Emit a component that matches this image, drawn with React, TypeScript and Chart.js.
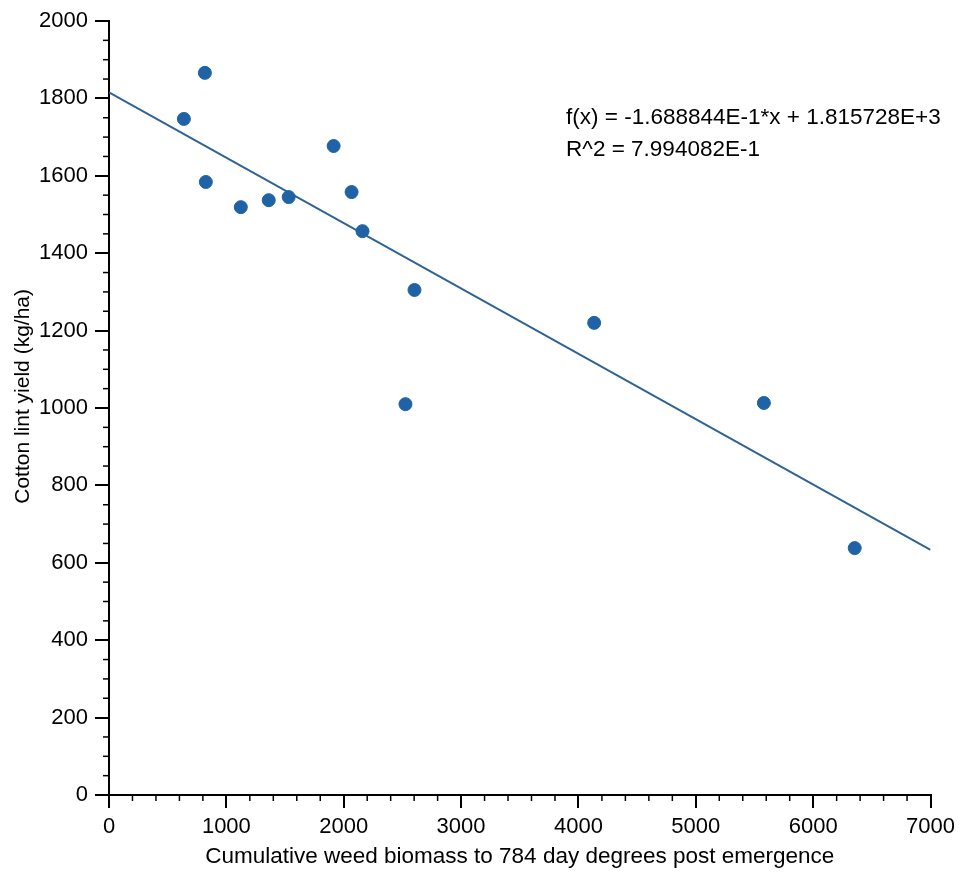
import { useEffect, useRef } from "react";
import { Chart, registerables } from "chart.js";

Chart.register(...registerables);

const biomass = [638, 817, 825, 1123, 1361, 1531, 1914, 2067, 2160, 2603, 2526, 4134, 5580, 6354];
const yieldKg = [1747, 1866, 1584, 1519, 1537, 1545, 1677, 1558, 1457, 1305, 1010, 1220, 1013, 638];
const slope = -0.1688844;
const intercept = 1815.728;
const fitRange = [0, 7000];
const annotationLines = ["f(x) = -1.688844E-1*x + 1.815728E+3", "R^2 = 7.994082E-1"];
const yTitle = "Cotton lint yield (kg/ha)";

const FONT = "'Liberation Sans', Arial, sans-serif";

const extras = {
  id: "extras",
  afterDraw(chart: any) {
    const ctx = chart.ctx;
    const xs = chart.scales.x;
    const ys = chart.scales.y;
    ctx.save();
    ctx.strokeStyle = "#000";
    ctx.lineWidth = 1.5;
    for (let v = 0; v <= 7000; v += 200) {
      if (v % 1000 === 0) continue;
      const px = xs.getPixelForValue(v);
      ctx.beginPath();
      ctx.moveTo(px, ys.bottom);
      ctx.lineTo(px, ys.bottom + 6);
      ctx.stroke();
    }
    for (let v = 0; v <= 2000; v += 50) {
      if (v % 200 === 0) continue;
      const py = ys.getPixelForValue(v);
      ctx.beginPath();
      ctx.moveTo(xs.left, py);
      ctx.lineTo(xs.left - 6, py);
      ctx.stroke();
    }
    ctx.fillStyle = "#000";
    ctx.font = `22.5px ${FONT}`;
    ctx.textBaseline = "middle";
    ctx.textAlign = "left";
    const ax = xs.getPixelForValue(3895);
    const ay = ys.getPixelForValue(1750);
    ctx.fillText(annotationLines[0], ax, ay);
    ctx.fillText(annotationLines[1], ax, ay + 32);
    // y title
    ctx.font = `21px ${FONT}`;
    ctx.textAlign = "center";
    ctx.translate(23, ys.getPixelForValue(1030));
    ctx.rotate(-Math.PI / 2);
    ctx.fillText(yTitle, 0, 0);
    ctx.restore();
  },
};

export default function App() {
  const ref = useRef<HTMLCanvasElement>(null);
  useEffect(() => {
    document.body.style.margin = "0";
    const chart = new Chart(ref.current!, {
      type: "scatter",
      data: {
        datasets: [
          {
            type: "scatter",
            label: "data",
            data: biomass.map((x, i) => ({ x, y: yieldKg[i] })),
            backgroundColor: "#1f63a6",
            borderColor: "#1f63a6",
            pointRadius: 6.5,
            order: 1,
          },
          {
            type: "line",
            label: "fit",
            data: fitRange.map((x) => ({ x, y: slope * x + intercept })),
            borderColor: "#2f6394",
            borderWidth: 2,
            pointRadius: 0,
            fill: false,
            order: 2,
          } as any,
        ],
      },
      options: {
        animation: false,
        responsive: false,
        layout: { padding: { top: 21, right: 29, left: 0, bottom: 0 } },
        plugins: { legend: { display: false }, tooltip: { enabled: false } },
        scales: {
          x: {
            type: "linear",
            min: 0,
            max: 7000,
            ticks: {
              stepSize: 1000,
              color: "#000",
              font: { family: FONT, size: 22 },
              padding: 6,
              callback: (v: any) => String(v),
            },
            grid: { drawOnChartArea: false, drawTicks: true, tickLength: 13, color: "#000", lineWidth: 2 },
            border: { display: true, color: "#000", width: 2 },
            title: {
              display: true,
              text: "Cumulative weed biomass to 784 day degrees post emergence",
              color: "#000",
              font: { family: FONT, size: 22.5 },
              padding: { top: 0 },
            },
            afterFit(scale: any) {
              scale.height = 79;
            },
          },
          y: {
            type: "linear",
            min: 0,
            max: 2000,
            ticks: {
              stepSize: 200,
              color: "#000",
              font: { family: FONT, size: 22 },
              padding: 7,
              callback: (v: any) => String(v),
            },
            grid: { drawOnChartArea: false, drawTicks: true, tickLength: 14, color: "#000", lineWidth: 2 },
            border: { display: true, color: "#000", width: 2 },
            afterFit(scale: any) {
              scale.width = 109;
            },
          },
        },
      },
      plugins: [extras],
    });
    return () => chart.destroy();
  }, []);
  return (
    <div style={{ width: 961, height: 874 }}>
      <canvas ref={ref} width={961} height={874} />
    </div>
  );
}
